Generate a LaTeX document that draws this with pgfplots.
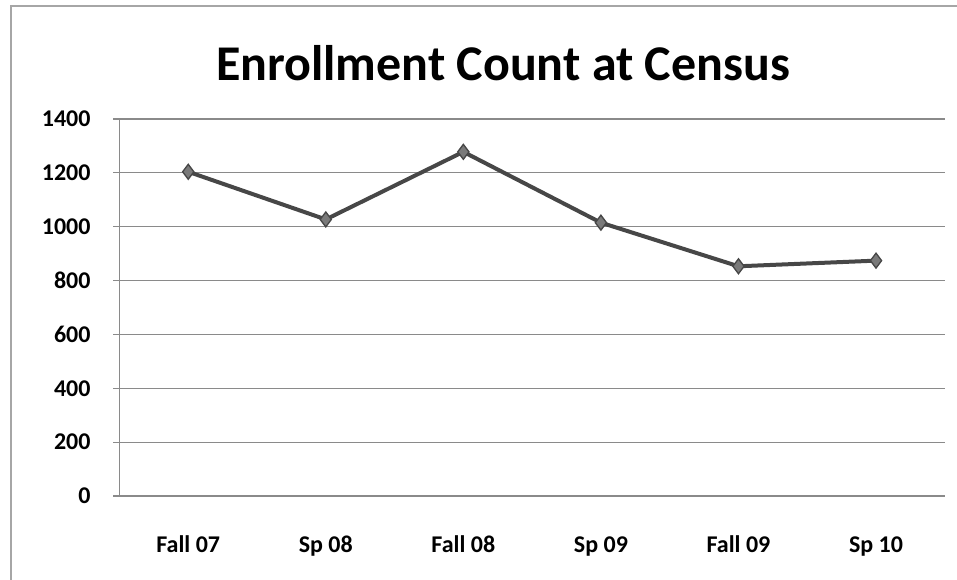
\documentclass[border=0pt]{standalone}
\usepackage{pgfplots}
\pgfplotsset{compat=1.18}
\usepackage{fontspec}
\setmainfont{Carlito}
\definecolor{linec}{HTML}{474747}
\definecolor{markc}{HTML}{7A7A7A}
\definecolor{gridc}{HTML}{8A8A8A}
\begin{document}
\begin{tikzpicture}
\useasboundingbox (0pt,0pt) rectangle (717.75pt,435pt);
\draw[gray!70, line width=1.2pt] (8.25pt,0pt) -- (8.25pt,430.5pt) -- (717.75pt,430.5pt);
\node[anchor=base, inner sep=0pt, font=\bfseries\fontsize{37.5}{42}\selectfont] at (377.25pt,374.25pt) {Enrollment Count at Census};
\begin{axis}[
  at={(89.6pt,63pt)}, anchor=south west,
  scale only axis,
  width=619pt, height=282.75pt,
  xmin=-0.5, xmax=5.5, ymin=0, ymax=1400,
  ytick={0,200,...,1400},
  xtick={0,1,2,3,4,5},
  xticklabels={Fall 07,Sp 08,Fall 08,Sp 09,Fall 09,Sp 10},
  axis x line=bottom, axis y line=left,
  axis line style={gridc, line width=0.9pt, -},
  ymajorgrids, grid style={gridc, line width=0.8pt},
  xtick style={draw=none},
  ytick style={gridc, line width=0.9pt},
  tick align=outside, major tick length=4.5pt,
  /pgf/number format/assume math mode=true,
  /pgf/number format/1000 sep={},
  ticklabel style={font=\bfseries\fontsize{18}{21}\selectfont},
  xticklabel style={anchor=base, inner sep=0pt, yshift=-38pt},
  yticklabel style={anchor=east, inner sep=0pt, xshift=-17pt},
  clip=false,
]
\addplot[linec, line width=3pt, mark=diamond*, mark size=5.6pt,
  mark options={fill=markc, draw=linec, line width=1pt}]
  coordinates {(0,1204) (1,1027) (2,1278) (3,1015) (4,853) (5,874)};
\end{axis}
\end{tikzpicture}
\end{document}
